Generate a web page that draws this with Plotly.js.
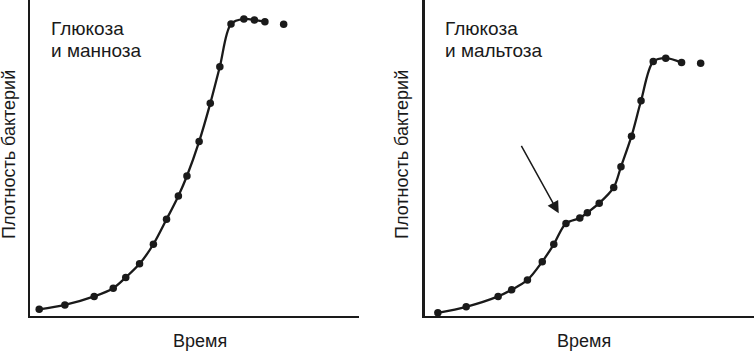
<!DOCTYPE html>
<html><head><meta charset="utf-8">
<script src="https://cdn.plot.ly/plotly-3.0.1.min.js"></script>
<style>html,body{margin:0;padding:0;background:#fff}#c{width:754px;height:352px}</style>
</head><body><div id="c"></div>
<script>
// Left panel: glucose + mannose (time, bacterial density in arbitrary units 0-100)
const timeA = [2.8,10.6,19.5,25.3,29.1,33.3,37.5,41.5,45.1,47.7,51.4,54.8,57.7,61.1,65.0,68.2,71.4];
const densA = [2.1,3.5,6.2,8.8,12.2,16.5,22.7,30.6,38.0,44.3,55.2,67.3,78.9,92.4,94.0,93.7,93.1];
const timeAExtra = [77.1];
const densAExtra = [92.3];
// Right panel: glucose + maltose (diauxie)
const timeB = [4.0,12.6,22.3,26.4,31.2,35.7,39.2,42.9,47.1,49.4,53.0,57.4,59.6,62.8,65.7,69.4,73.2,78.0];
const densB = [1.0,2.9,6.2,8.3,11.4,17.2,22.7,29.3,31.0,32.7,35.7,40.7,47.2,56.9,68.1,80.5,81.6,80.2];
const timeBExtra = [83.8];
const densBExtra = [80.0];
const labelsA = ["Глюкоза", "и манноза"];
const labelsB = ["Глюкоза", "и мальтоза"];
const xTitle = "Время";
const yTitle = "Плотность бактерий";

const W = 754, H = 352;
const C = '#1a1a1a';
const FONT = 'Liberation Sans, Arial, sans-serif';
const px = v => v / W, py = v => 1 - v / H;

const lineTr = (x, y, xa, ya) => ({x, y, xaxis: xa, yaxis: ya, type: 'scatter', mode: 'lines+markers',
  line: {shape: 'spline', smoothing: 0.9, color: C, width: 2.3}, marker: {size: 7.5, color: C}, hoverinfo: 'skip'});
const dotTr = (x, y, xa, ya) => ({x, y, xaxis: xa, yaxis: ya, type: 'scatter', mode: 'markers',
  marker: {size: 7.5, color: C}, hoverinfo: 'skip'});

const data = [
  lineTr(timeA, densA, 'x', 'y'), dotTr(timeAExtra, densAExtra, 'x', 'y'),
  lineTr(timeB, densB, 'x2', 'y2'), dotTr(timeBExtra, densBExtra, 'x2', 'y2')
];

const ax = (dom) => ({domain: dom, range: [0, 100], showline: true, linecolor: C, linewidth: 2.3,
  showgrid: false, zeroline: false, showticklabels: false, ticks: '', fixedrange: true});

const tfont = {family: FONT, size: 18, color: C};
const lfont = {family: FONT, size: 19, color: C};
const lab = (xp, yp, t) => ({xref: 'paper', yref: 'paper', x: px(xp), y: py(yp), xanchor: 'left', yanchor: 'middle', text: t, showarrow: false, font: lfont});
const layout = {
  width: W, height: H, margin: {l: 0, r: 0, t: 0, b: 0},
  paper_bgcolor: '#fff', plot_bgcolor: '#fff', showlegend: false,
  xaxis: ax([px(30), px(359)]), yaxis: Object.assign(ax([1 - 316 / H, 1]), {anchor: 'x'}),
  xaxis2: Object.assign(ax([px(424.7), 1]), {anchor: 'y2'}), yaxis2: Object.assign(ax([1 - 316 / H, 1]), {anchor: 'x2'}),
  annotations: [
    lab(49, 28.5, labelsA[0]), lab(49, 50, labelsA[1]),
    lab(443, 28.5, labelsB[0]), lab(443, 50, labelsB[1]),
    {xref: 'paper', yref: 'paper', x: px(200), y: py(341), xanchor: 'center', yanchor: 'middle', text: xTitle, showarrow: false, font: tfont},
    {xref: 'paper', yref: 'paper', x: px(584), y: py(341), xanchor: 'center', yanchor: 'middle', text: xTitle, showarrow: false, font: tfont},
    {xref: 'paper', yref: 'paper', x: px(9), y: py(155), xanchor: 'center', yanchor: 'middle', textangle: -90, text: yTitle, showarrow: false, font: tfont},
    {xref: 'paper', yref: 'paper', x: px(402), y: py(155), xanchor: 'center', yanchor: 'middle', textangle: -90, text: yTitle, showarrow: false, font: tfont},
    {xref: 'x2', yref: 'y2', x: 40.7, y: 32.5, ax: 29.1, ay: 54.3, axref: 'x2', ayref: 'y2', text: '',
      showarrow: true, arrowhead: 2, arrowsize: 1.6, arrowwidth: 1.5, arrowcolor: C}
  ]
};
Plotly.newPlot('c', data, layout, {staticPlot: true, displayModeBar: false});
</script></body></html>
